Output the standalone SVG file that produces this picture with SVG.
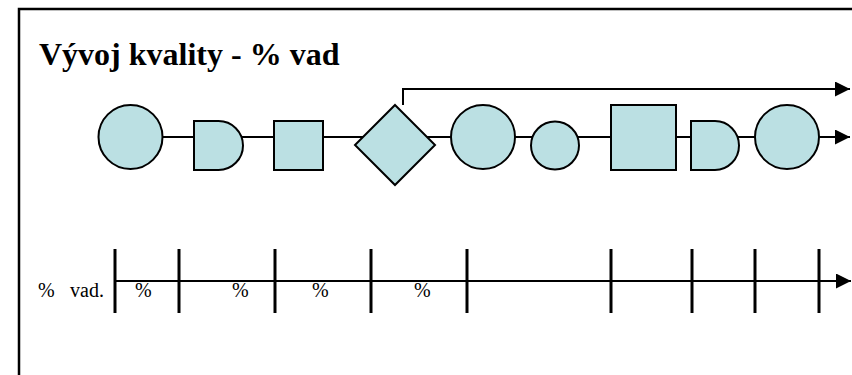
<svg xmlns="http://www.w3.org/2000/svg" width="852" height="375" viewBox="0 0 852 375">
<style>
.shape{fill:#BBE0E3;stroke:#000;stroke-width:2}
.conn{fill:none;stroke:#000;stroke-width:2}
.tick{stroke:#000;stroke-width:3}
.t{fill:#000}
</style>
<defs>
<marker id="arr" markerUnits="userSpaceOnUse" markerWidth="16" markerHeight="16" refX="15" refY="7.5" orient="auto">
<path d="M0,0 L15,7.5 L0,15 Z" fill="#000"/>
</marker>
</defs>
<rect width="852" height="375" fill="#fff"/>
<path d="M19,375 V9 H852" fill="none" stroke="#000" stroke-width="2.5"/>
<text class="t" x="39" y="65" font-family="'Liberation Serif', 'DejaVu Serif', serif" font-size="32" font-weight="bold">Vývoj kvality - % vad</text>
<g id="connectors">
<polyline class="conn" points="403,105 403,89 850,89" marker-end="url(#arr)"/>
<line class="conn" x1="163" y1="137" x2="194" y2="137"/>
<line class="conn" x1="241" y1="137" x2="274" y2="137"/>
<line class="conn" x1="323" y1="137" x2="363" y2="137"/>
<line class="conn" x1="427" y1="137" x2="451" y2="137"/>
<line class="conn" x1="515" y1="137" x2="533" y2="137"/>
<line class="conn" x1="577" y1="137" x2="611" y2="137"/>
<line class="conn" x1="676" y1="137" x2="691" y2="137"/>
<line class="conn" x1="737" y1="137" x2="755" y2="137"/>
<line class="conn" x1="819" y1="137" x2="850" y2="137" marker-end="url(#arr)"/>
</g>
<g id="n1"><circle class="shape" cx="130.5" cy="137" r="32"/></g>
<g id="n2"><path class="shape" d="M194,121 H218.5 A24.5,24.5 0 0 1 218.5,170 H194 Z"/></g>
<g id="n3"><rect class="shape" x="274" y="121" width="49" height="49"/></g>
<g id="n4"><polygon class="shape" points="395,105 435,145 395,185 355,145"/></g>
<g id="n5"><circle class="shape" cx="483" cy="137" r="32"/></g>
<g id="n6"><circle class="shape" cx="555" cy="145.5" r="24"/></g>
<g id="n7"><rect class="shape" x="611" y="105" width="65" height="65"/></g>
<g id="n8"><path class="shape" d="M691,121 H715 A24,24.5 0 0 1 715,170 H691 Z"/></g>
<g id="n9"><circle class="shape" cx="787" cy="137" r="32"/></g>
<g id="timeline">
<line class="conn" x1="115" y1="281" x2="851" y2="281" marker-end="url(#arr)"/>
<line class="tick" x1="115" y1="249" x2="115" y2="313"/>
<line class="tick" x1="179" y1="249" x2="179" y2="313"/>
<line class="tick" x1="275" y1="249" x2="275" y2="313"/>
<line class="tick" x1="371" y1="249" x2="371" y2="313"/>
<line class="tick" x1="467" y1="249" x2="467" y2="313"/>
<line class="tick" x1="611" y1="249" x2="611" y2="313"/>
<line class="tick" x1="692" y1="249" x2="692" y2="313"/>
<line class="tick" x1="755" y1="249" x2="755" y2="313"/>
<line class="tick" x1="819" y1="249" x2="819" y2="313"/>
<g font-family="'Liberation Serif', 'DejaVu Serif', serif" font-size="20">
<text class="t" x="38" y="297">%</text>
<text class="t" x="70" y="297">vad.</text>
<text class="t" x="135" y="297">%</text>
<text class="t" x="232" y="297">%</text>
<text class="t" x="312" y="297">%</text>
<text class="t" x="414" y="297">%</text>
</g>
</g>
</svg>
